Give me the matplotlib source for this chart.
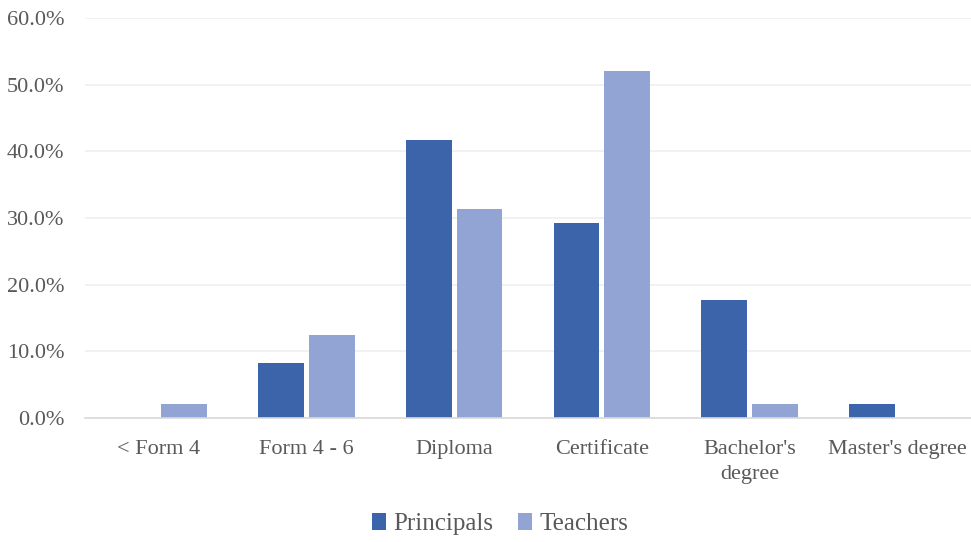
import numpy as np
import matplotlib.pyplot as plt
from matplotlib.ticker import PercentFormatter

categories = ["< Form 4", "Form 4 - 6", "Diploma", "Certificate", "Bachelor's\ndegree", "Master's degree"]
principals = [0.0, 8.3, 41.7, 29.2, 17.7, 2.1]
teachers = [2.1, 12.5, 31.3, 52.1, 2.1, 0.0]

plt.rcParams['font.family'] = ['Liberation Serif', 'DejaVu Serif']

fig = plt.figure(figsize=(9.71, 5.42), dpi=100)
ax = fig.add_axes([85 / 971, 1 - 418 / 542, 886 / 971, 400 / 542])

x = np.arange(len(categories))
w = 0.31
off = 0.172
ax.bar(x - off, principals, w, color='#3C64AB', label='Principals', zorder=3)
ax.bar(x + off, teachers, w, color='#91A4D3', label='Teachers', zorder=3)

ax.set_xlim(-0.5, len(categories) - 0.5)
ax.set_ylim(0, 60)
ax.set_yticks(np.arange(0, 61, 10))
ax.yaxis.set_major_formatter(PercentFormatter(decimals=1))
ax.grid(axis='y', color='#EFEFEF', linewidth=1.2, zorder=0)

ax.set_xticks(x)
ax.set_xticklabels(categories, linespacing=1.4)
ax.tick_params(axis='both', length=0, labelsize=16, colors='#595959')
ax.tick_params(axis='x', pad=16)
ax.tick_params(axis='y', pad=15)

for s in ['top', 'right', 'left']:
    ax.spines[s].set_visible(False)
ax.spines['bottom'].set_color('#D9D9D9')
ax.spines['bottom'].set_linewidth(1.2)
ax.spines['bottom'].set_zorder(4)

leg = fig.legend(loc='center', bbox_to_anchor=(500 / 971, 1 - 524 / 542), ncol=2, frameon=False,
                 fontsize=18, handlelength=0.55, handleheight=0.7, handletextpad=0.3, columnspacing=1.0)
for t in leg.get_texts():
    t.set_color('#595959')

fig.savefig('out.png', dpi=100)
